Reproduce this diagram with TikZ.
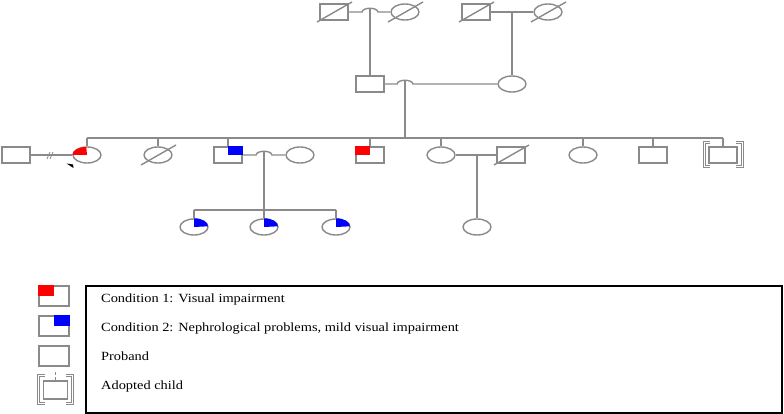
\documentclass[tikz,border=0pt]{standalone}
\usepackage{fontspec}
\setmainfont[FakeStretch=1.15]{Liberation Serif}
\usetikzlibrary{shapes.geometric}
\definecolor{pedline}{HTML}{8A8A8A}
\definecolor{condone}{HTML}{FF0000}
\definecolor{condtwo}{HTML}{0000FF}
\tikzset{
  link/.style={draw=pedline, line width=1.4pt},
  male/.style={link, rectangle, minimum width=28pt, minimum height=16pt, inner sep=0pt},
  female/.style={link, ellipse, minimum width=28pt, minimum height=16pt, inner sep=0pt},
  legsym/.style={male, minimum width=30pt, minimum height=20pt},
  bracket/.style={draw=pedline, line width=0.8pt, double=white, double distance=1pt},
  legtext/.style={anchor=base west, inner sep=0pt, font=\fontsize{12.5}{14}\selectfont},
  legbox/.style={draw=black, line width=1.3pt},
}

\begin{document}
\begin{tikzpicture}[x=1pt, y=-1pt]
    \useasboundingbox (0,0) rectangle (784,414);
    % generation I
    \node[male] (gf1) at (334, 12) {};
    \node[female] (gm1) at (405, 12) {};
    \node[male] (gf2) at (476, 12) {};
    \node[female] (gm2) at (548, 12) {};
    % generation II
    \node[male] (fa) at (370, 84) {};
    \node[female] (mo) at (512, 84) {};
    % generation III
    \node[male] (sp) at (16, 155) {};
    \node[female] (pb) at (87, 155) {};
    \node[female] (d1) at (158, 155) {};
    \node[male] (b1) at (228, 155) {};
    \node[female] (w1) at (300, 155) {};
    \node[male] (r1) at (370, 155) {};
    \node[female] (f5) at (441, 155) {};
    \node[male] (h5) at (511, 155) {};
    \node[female] (f6) at (583, 155) {};
    \node[male] (m7) at (653, 155) {};
    \node[male] (ad) at (723, 155) {};
    % generation IV
    \node[female] (g1) at (194, 227) {};
    \node[female] (g2) at (264, 227) {};
    \node[female] (g3) at (336, 227) {};
    \node[female] (g4) at (477, 227) {};

    % marriages and descent
    \coordinate (h1) at (370, 12);
    \draw[link] (gf1) -- ([xshift=-8]h1) .. controls +(1,-5) and +(-1,-5) .. ([xshift=8]h1) -- (gm1);
    \draw[link] ([yshift=3.7]h1) -- (fa);
    \coordinate (h2) at (512, 12);
    \draw[link] (gf2) -- (gm2);
    \draw[link] (h2) -- (mo);
    \coordinate (h3) at (405, 84);
    \draw[link] (fa) -- ([xshift=-8]h3) .. controls +(1,-5) and +(-1,-5) .. ([xshift=8]h3) -- (mo);
    \coordinate (s3) at (405, 138);
    \draw[link] ([yshift=3.7]h3) -- (s3);
    \draw[link] (pb |- s3) -- (ad |- s3);
    \foreach \n in {pb,d1,b1,r1,f5,f6,m7,ad}
      \draw[link] (\n |- s3) -- (\n);

    \coordinate (dv) at (50, 155);
    \draw[link] (sp) -- (pb);
    \draw[link, line width=0.8pt] ([shift={(-3,4)}]dv) -- ([shift={(0,-3)}]dv);
    \draw[link, line width=0.8pt] ([shift={(0,4)}]dv) -- ([shift={(3,-3)}]dv);

    \coordinate (h4) at (264, 155);
    \draw[link] (b1) -- ([xshift=-8]h4) .. controls +(1,-5) and +(-1,-5) .. ([xshift=8]h4) -- (w1);
    \coordinate (s4) at (264, 210);
    \draw[link] ([yshift=3.7]h4) -- (s4);
    \draw[link] (g1 |- s4) -- (g3 |- s4);
    \foreach \n in {g1,g2,g3}
      \draw[link] (\n |- s4) -- (\n);

    \coordinate (h6) at (477, 155);
    \draw[link] (f5) -- (h5);
    \draw[link] (h6) -- (g4);

    % deceased
    \foreach \n in {gf1,gm1,gf2,gm2,d1,h5}
      \draw[link] ([shift={(-17,10)}]\n.center) -- ([shift={(18,-10)}]\n.center);

    % affected
    \fill[condone] (pb.center) -- (pb.west) arc[start angle=180, end angle=90, x radius=14pt, y radius=8pt] -- cycle;
    \fill[condone] (r1.north west) rectangle (r1.center);
    \fill[condtwo] (b1.north) rectangle (b1.east);
    \foreach \n in {g1,g2,g3}
      \fill[condtwo] (\n.center) -- (\n.north) arc[start angle=90, end angle=0, x radius=14pt, y radius=8pt] -- cycle;

    % proband arrow
    \fill[black] (66.5, 163.5) -- (73, 164.5) -- (73.5, 168) -- cycle;

    % adopted
    \draw[bracket] ([shift={(2,-4)}]ad.north west) -- ([shift={(-4,-4)}]ad.north west) -- ([shift={(-4,3)}]ad.south west) -- ([shift={(2,3)}]ad.south west);
    \draw[bracket] ([shift={(-2,-4)}]ad.north east) -- ([shift={(5,-4)}]ad.north east) -- ([shift={(5,3)}]ad.south east) -- ([shift={(-2,3)}]ad.south east);

    % legend
    \node[legsym] (l1) at (54, 296) {};
    \fill[condone] (l1.north west) rectangle (l1.center);
    \node[legsym] (l2) at (54, 326) {};
    \fill[condtwo] (l2.north) rectangle (l2.east);
    \node[legsym] (l3) at (54, 356) {};
    \node[legsym, minimum width=24pt, minimum height=18pt] (l4) at (55.5, 390) {};
    \draw[bracket] ([shift={(2,-5)}]l4.north west) -- ([shift={(-4.5,-5)}]l4.north west) -- ([shift={(-4.5,4)}]l4.south west) -- ([shift={(2,4)}]l4.south west);
    \draw[bracket] ([shift={(-2,-5)}]l4.north east) -- ([shift={(4.5,-5)}]l4.north east) -- ([shift={(4.5,4)}]l4.south east) -- ([shift={(-2,4)}]l4.south east);
    \draw[link, line width=0.8pt, dash pattern=on 3pt off 1.5pt] ([yshift=8]l4.north) -- (l4.north);

    \draw[legbox] (86, 286) rectangle (782, 413);
    \node[legtext] (t1) at (101, 302) {Condition 1: Visual impairment};
    \node[legtext] (t2) at (101, 331) {Condition 2: Nephrological problems, mild visual impairment};
    \node[legtext] (t3) at (101, 360) {Proband};
    \node[legtext] (t4) at (101, 389) {Adopted child};
  \end{tikzpicture}
\end{document}
